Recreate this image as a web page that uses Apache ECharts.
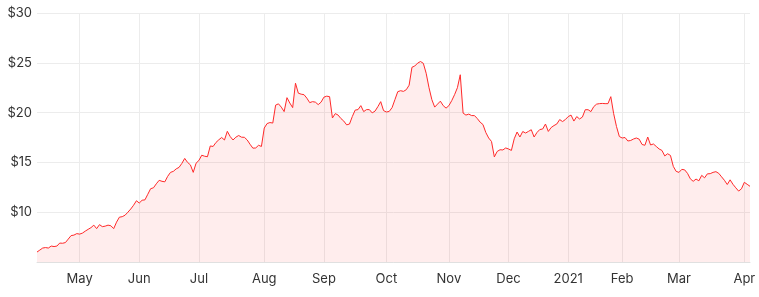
<!DOCTYPE html>
<html>
<head>
<meta charset="utf-8">
<script src="https://cdn.jsdelivr.net/npm/echarts@6/dist/echarts.min.js"></script>
<style>
html,body{margin:0;padding:0;background:#fff;}
#chart{width:759px;height:297px;}
</style>
</head>
<body>
<div id="chart"></div>
<script>
// Trading-day range (ASX) and market holidays within it
const startDate = '2020-04-08';
const endDate = '2021-04-07';
const holidays = ['2020-04-10','2020-04-13','2020-06-08','2020-12-25','2020-12-28','2021-01-01','2021-01-26','2021-04-02','2021-04-05'];
const monthNames = ['Jan','Feb','Mar','Apr','May','Jun','Jul','Aug','Sep','Oct','Nov','Dec'];

// Daily closing prices, one per trading day
const prices = [
6.0,6.2,6.4,6.45,6.4,6.6,6.55,6.6,6.9,6.88,
6.95,7.3,7.65,7.7,7.85,7.8,7.9,8.1,8.28,8.45,
8.7,8.35,8.75,8.55,8.6,8.7,8.64,8.35,9.0,9.5,
9.55,9.7,10.0,10.32,10.7,11.15,10.92,11.2,11.24,11.8,
12.36,12.45,12.85,13.2,13.1,13.05,13.6,14.0,14.1,14.35,
14.5,14.9,15.4,15.0,14.75,14.0,14.92,15.2,15.72,15.62,
15.57,16.65,16.6,17.0,17.27,17.5,17.25,18.12,17.6,17.25,
17.53,17.7,17.53,17.52,17.25,16.82,16.43,16.45,16.72,16.6,
18.45,18.9,19.0,18.95,20.75,20.88,20.55,20.1,21.5,20.96,
20.5,22.95,21.95,21.85,21.8,21.45,21.0,21.1,21.05,20.8,
21.05,21.55,21.65,21.6,19.46,19.9,19.75,19.4,19.15,18.77,
18.85,19.6,20.25,20.3,20.7,20.1,20.3,20.3,19.97,20.15,
20.6,21.1,20.2,20.06,20.12,20.5,21.3,22.1,22.2,22.13,
22.3,22.75,24.55,24.68,24.97,25.13,24.95,23.95,22.5,21.3,
20.55,20.85,21.15,20.7,20.45,20.7,21.2,21.8,22.5,23.8,
19.95,19.75,19.85,19.7,19.7,19.4,19.04,18.8,18.0,17.45,
17.1,15.55,16.1,16.27,16.25,16.45,16.35,16.2,17.37,18.05,
17.55,18.1,17.95,18.11,18.28,17.55,18.0,18.3,18.35,18.85,
18.11,18.5,18.7,18.86,19.3,19.1,19.3,19.6,19.75,19.15,
19.6,19.36,19.55,20.29,20.29,20.1,20.6,20.85,20.9,20.92,
20.9,20.9,21.6,19.9,18.6,17.6,17.45,17.5,17.15,17.2,
17.35,17.45,17.33,16.8,16.72,17.55,16.75,16.85,16.6,16.35,
16.2,15.65,15.87,15.7,14.6,14.1,14.0,14.3,14.25,13.9,
13.35,13.1,13.33,13.15,13.7,13.45,13.85,13.87,14.0,14.07,
13.9,13.55,13.2,12.78,13.25,12.8,12.45,12.12,12.35,13.0,
12.8,12.6
];

// Y axis ticks
const yMin = 5, yMax = 30, yStep = 5;

// Build trading-day categories
const dates = [];
(function(){
  const d = new Date(startDate + 'T00:00:00Z');
  const end = new Date(endDate + 'T00:00:00Z');
  while (d <= end) {
    const iso = d.toISOString().slice(0,10);
    const wd = d.getUTCDay();
    if (wd !== 0 && wd !== 6 && holidays.indexOf(iso) < 0) dates.push(iso);
    d.setUTCDate(d.getUTCDate() + 1);
  }
})();

function isMonthStart(idx) {
  if (idx === 0) return false;
  return dates[idx].slice(0,7) !== dates[idx-1].slice(0,7);
}

const chart = echarts.init(document.getElementById('chart'), null, {renderer:'canvas'});
chart.setOption({
  animation: false,
  backgroundColor: '#ffffff',
  grid: {left: 37, right: 9, top: 13, bottom: 35, containLabel: false},
  xAxis: {
    type: 'category',
    boundaryGap: false,
    data: dates,
    axisLine: {show: true, lineStyle: {color: '#e0e0e0'}},
    axisTick: {show: false},
    axisLabel: {
      interval: function(idx){ return isMonthStart(idx); },
      formatter: function(v){
        const m = parseInt(v.slice(5,7),10) - 1;
        return m === 0 ? v.slice(0,4) : monthNames[m];
      },
      color: '#333',
      fontFamily: 'Inter, "Open Sans", sans-serif',
      fontSize: 13,
      margin: 11
    },
    splitLine: {
      show: true,
      interval: function(idx){ return isMonthStart(idx); },
      lineStyle: {color: '#ececec', width: 1}
    }
  },
  yAxis: {
    type: 'value',
    min: yMin, max: yMax, interval: yStep,
    axisLine: {show: false},
    axisTick: {show: false},
    axisLabel: {
      showMinLabel: false,
      formatter: function(v){ return '$' + v; },
      color: '#333',
      fontFamily: 'Inter, "Open Sans", sans-serif',
      fontSize: 13,
      margin: 5
    },
    splitLine: {lineStyle: {color: '#ececec', width: 1}}
  },
  series: [{
    type: 'line',
    data: prices,
    showSymbol: false,
    symbol: 'none',
    lineStyle: {color: '#ff2a2a', width: 1},
    areaStyle: {color: 'rgba(255, 60, 60, 0.13)'},
    emphasis: {disabled: true}
  }]
});
</script>
</body>
</html>
